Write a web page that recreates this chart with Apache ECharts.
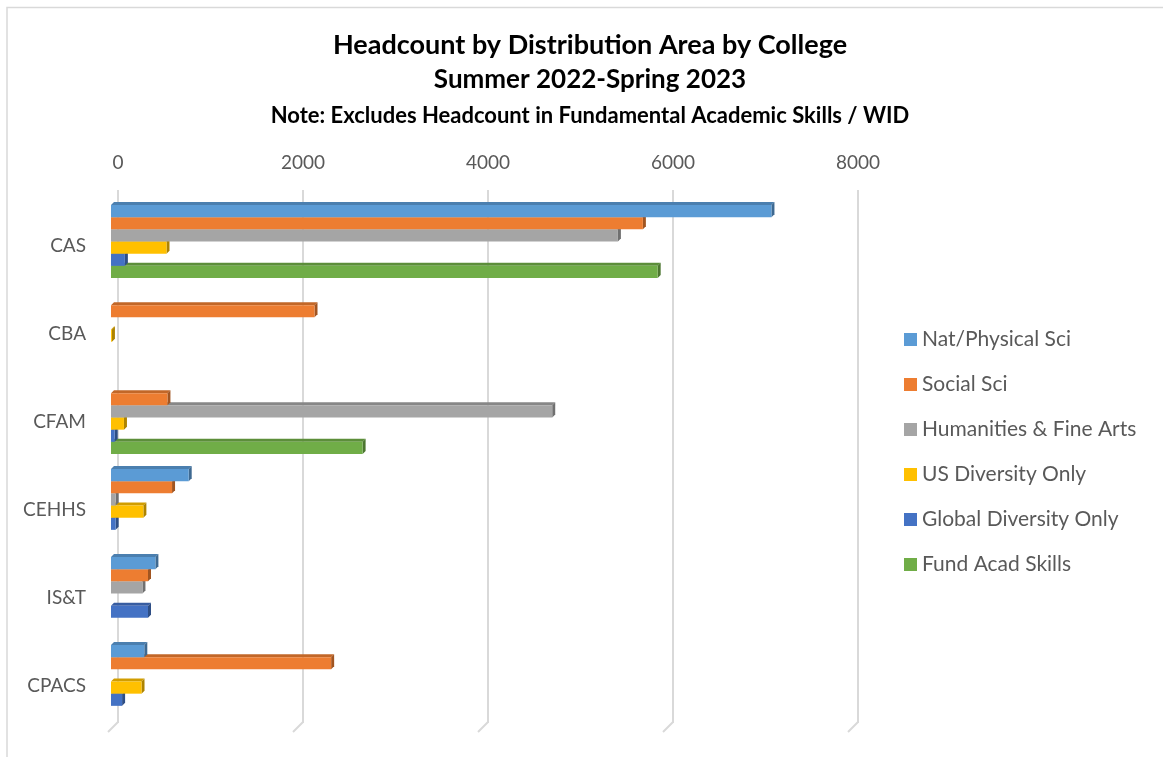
<!DOCTYPE html>
<html>
<head>
<meta charset="utf-8">
<title>Headcount by Distribution Area by College</title>
<script src="https://cdn.jsdelivr.net/npm/echarts@6/dist/echarts.min.js"></script>
<style>
  html, body { margin: 0; padding: 0; background: #ffffff; }
  #chart { width: 1163px; height: 757px; }
</style>
</head>
<body>
<div id="chart"></div>
<script>
// Colleges, top to bottom
const colleges = ['CAS', 'CBA', 'CFAM', 'CEHHS', 'IS&T', 'CPACS'];

// Headcount per distribution area (one value per college)
const natPhysicalSci   = [7140,    0,    0,  840,  480,  360];
const socialSci        = [5750, 2200,  610,  660,  400, 2380];
const humanitiesArts   = [5480,    0, 4770,   50,  340,    0];
const usDiversity      = [ 600,   10,  140,  350,    0,  330];
const globalDiversity  = [ 150,    0,   40,   50,  400,  120];
const fundAcadSkills   = [5910,    0, 2720,    0,    0,    0];

// Value axis ticks
const axisTicks = [0, 2000, 4000, 6000, 8000];

const seriesNames = ['Nat/Physical Sci', 'Social Sci', 'Humanities & Fine Arts',
                     'US Diversity Only', 'Global Diversity Only', 'Fund Acad Skills'];
const seriesValues = [natPhysicalSci, socialSci, humanitiesArts, usDiversity, globalDiversity, fundAcadSkills];
const seriesColors = ['#5B9BD5', '#ED7D31', '#A5A5A5', '#FFC000', '#4472C4', '#70AD47'];

const FONT = 'Lato, "Open Sans", sans-serif';
const TEXT_GRAY = '#595959';
const GROUP_FRAC = 0.83;   // share of each category band filled by the bar group
const DEPTH = 3;           // bevel depth of the pseudo-3D bars
const LIFT = 4;            // bars sit a little above their category label

function shade(hex, k) {
  const n = parseInt(hex.slice(1), 16);
  const r = Math.round(((n >> 16) & 255) * k);
  const g = Math.round(((n >> 8) & 255) * k);
  const b = Math.round((n & 255) * k);
  return 'rgb(' + r + ',' + g + ',' + b + ')';
}

function barRenderer(idx, color) {
  const topColor = shade(color, 0.82);
  const sideColor = shade(color, 0.68);
  return function (params, api) {
    const v = api.value(1);
    if (!v) return null;
    const cat = api.value(0);
    const p0 = api.coord([0, cat]);
    const p1 = api.coord([v, cat]);
    const band = api.size([0, 1])[1];
    const h = band * GROUP_FRAC / seriesNames.length;
    const y = p0[1] - LIFT - band * GROUP_FRAC / 2 + idx * h;
    const x0 = p0[0], x1 = p1[0], d = DEPTH;
    return {
      type: 'group',
      children: [
        { type: 'polygon', shape: { points: [[x0, y], [x0 + d, y - d], [x1 + d, y - d], [x1, y]] },
          style: { fill: topColor } },
        { type: 'polygon', shape: { points: [[x1, y], [x1 + d, y - d], [x1 + d, y + h - d], [x1, y + h]] },
          style: { fill: sideColor } },
        { type: 'rect', shape: { x: x0, y: y, width: Math.max(x1 - x0, 0.5), height: h },
          style: { fill: color } }
      ]
    };
  };
}

const barSeries = seriesNames.map((name, i) => ({
  name: name,
  type: 'custom',
  xAxisIndex: 1,
  yAxisIndex: 1,
  z: 10 - i,
  clip: false,
  itemStyle: { color: seriesColors[i] },
  encode: { x: 1, y: 0 },
  data: seriesValues[i].map((v, c) => [c, v]),
  renderItem: barRenderer(i, seriesColors[i])
}));

// Floor edge of each gridline (short slanted foot)
const floorSeries = {
  type: 'custom',
  xAxisIndex: 0,
  yAxisIndex: 0,
  silent: true,
  clip: false,
  z: 1,
  data: axisTicks.map(v => [v, 0]),
  encode: { x: 0, y: 1 },
  renderItem: function (params, api) {
    const p = api.coord([api.value(0), 0]);
    return {
      type: 'line',
      shape: { x1: p[0], y1: p[1] - 1, x2: p[0] - 10, y2: p[1] + 9 },
      style: { stroke: '#d9d9d9', lineWidth: 2 }
    };
  }
};

const chart = echarts.init(document.getElementById('chart'), null, { renderer: 'canvas' });
chart.setOption({
  animation: false,
  backgroundColor: '#ffffff',
  graphic: [
    { type: 'polyline', shape: { points: [[7, 800], [7, 7.5], [1200, 7.5]] },
      style: { stroke: '#d9d9d9', lineWidth: 1.5, fill: null } },
    { type: 'text', x: 590, y: 45,
      style: { text: 'Headcount by Distribution Area by College', font: 'bold 27px ' + FONT,
               fill: '#000000', textAlign: 'center', textVerticalAlign: 'middle' } },
    { type: 'text', x: 590, y: 80,
      style: { text: 'Summer 2022-Spring 2023', font: 'bold 26px ' + FONT,
               fill: '#000000', textAlign: 'center', textVerticalAlign: 'middle' } },
    { type: 'text', x: 590, y: 116,
      style: { text: 'Note: Excludes Headcount in Fundamental Academic Skills / WID', font: 'bold 22px ' + FONT,
               fill: '#000000', textAlign: 'center', textVerticalAlign: 'middle' } }
  ],
  legend: {
    data: seriesNames,
    orient: 'vertical',
    left: 904,
    top: 329,
    padding: 0,
    icon: 'rect',
    itemWidth: 13,
    itemHeight: 13,
    itemGap: 24,
    textStyle: { color: TEXT_GRAY, fontSize: 21, fontFamily: FONT },
    selectedMode: false
  },
  grid: [
    // back wall with gridlines
    { left: 118, top: 190, width: 740, height: 533 },
    // bars, slightly in front of the wall
    { left: 111, top: 201.5, width: 740, height: 528 }
  ],
  xAxis: [
    { type: 'value', gridIndex: 0, position: 'top', min: 0, max: 8000, interval: 2000,
      axisLine: { show: false }, axisTick: { show: false },
      axisLabel: { color: TEXT_GRAY, fontSize: 19, fontFamily: FONT, margin: 18,
                   formatter: v => String(v) },
      splitLine: { lineStyle: { color: '#d9d9d9', width: 2 } } },
    { type: 'value', gridIndex: 1, min: 0, max: 8000, show: false, splitLine: { show: false } }
  ],
  yAxis: [
    { type: 'value', gridIndex: 0, min: 0, max: 1, show: false },
    { type: 'category', gridIndex: 1, data: colleges, inverse: true,
      axisLine: { show: false }, axisTick: { show: false },
      axisLabel: { color: TEXT_GRAY, fontSize: 19, fontFamily: FONT, margin: 25 } }
  ],
  series: [floorSeries].concat(barSeries)
});
</script>
</body>
</html>
